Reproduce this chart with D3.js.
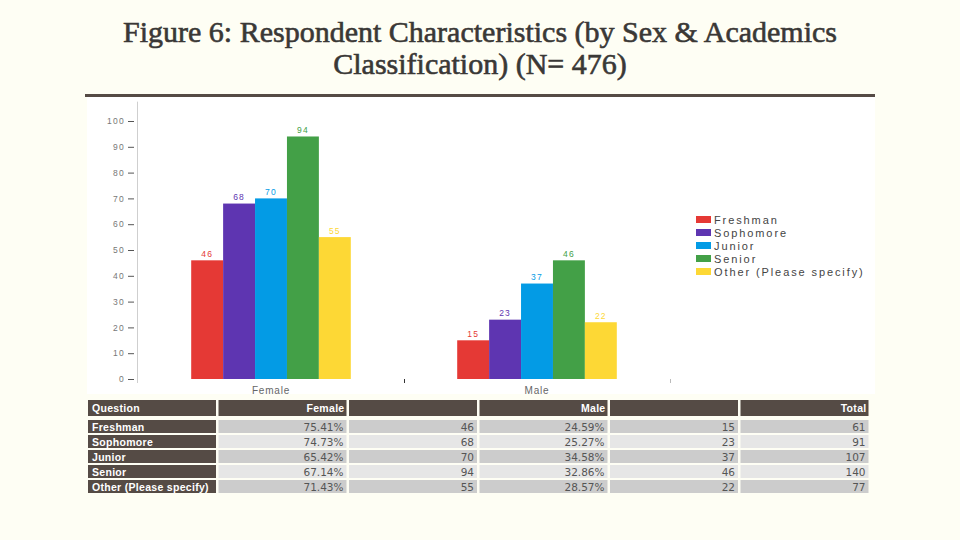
<!DOCTYPE html>
<html><head><meta charset="utf-8">
<script src="https://cdn.jsdelivr.net/npm/d3@7"></script>
<style>
html,body{margin:0;padding:0;background:#fefef4;}
svg{display:block;}
</style></head>
<body>
<svg id="c" width="960" height="540"></svg>
<script>
const titleLines = ["Figure 6: Respondent Characteristics (by Sex & Academics", "Classification) (N= 476)"];
const categories = ["Freshman", "Sophomore", "Junior", "Senior", "Other (Please specify)"];
const groups = ["Female", "Male"];
const femaleCounts = [46, 68, 70, 94, 55];
const maleCounts = [15, 23, 37, 46, 22];
const femalePct = ["75.41%", "74.73%", "65.42%", "67.14%", "71.43%"];
const malePct = ["24.59%", "25.27%", "34.58%", "32.86%", "28.57%"];
const totals = [61, 91, 107, 140, 77];
const yTicks = [0, 10, 20, 30, 40, 50, 60, 70, 80, 90, 100];
const colors = ["#e53935", "#5e35b1", "#039be5", "#43a047", "#fdd835"];
const tableHeaders = ["Question", "Female", "", "Male", "", "Total"];

const svg = d3.select("#c");

// title
svg.append("g").selectAll("text").data(titleLines).join("text")
  .attr("x", 480).attr("y", (d, i) => 42 + i * 32)
  .attr("text-anchor", "middle")
  .attr("font-family", "'Liberation Serif', 'DejaVu Serif', serif")
  .attr("font-size", 30).attr("fill", "#3a3836")
  .attr("stroke", "#3a3836").attr("stroke-width", 0.6)
  .text(d => d);

// top dark rule and white panel
svg.append("rect").attr("x", 85).attr("y", 94).attr("width", 790).attr("height", 3).attr("fill", "#554b45");
svg.append("rect").attr("x", 87).attr("y", 97).attr("width", 788).attr("height", 297).attr("fill", "#ffffff");
svg.append("clipPath").attr("id", "pc").append("rect").attr("x", 87).attr("y", 97).attr("width", 788).attr("height", 297);

const chart = svg.append("g").attr("clip-path", "url(#pc)");

const y = d3.scaleLinear().domain([0, 100]).range([379, 121]);
const x0 = d3.scaleBand().domain(groups).range([138, 670]).paddingInner(0.4).paddingOuter(0.2);
const x1 = d3.scaleBand().domain(categories).range([0, x0.bandwidth()]);

// y axis
chart.append("line").attr("x1", 137.5).attr("x2", 137.5).attr("y1", y(107.5)).attr("y2", 383)
  .attr("stroke", "#cfcfcf").attr("stroke-width", 1);
const yAxis = d3.axisLeft(y).tickValues(yTicks).tickSize(6).tickPadding(3);
const ya = chart.append("g").attr("transform", "translate(134,0)").call(yAxis);
ya.select(".domain").remove();
ya.selectAll(".tick line").attr("stroke", "#555");
ya.selectAll(".tick text").attr("fill", "#777").attr("font-size", 8.5)
  .attr("font-family", "'Liberation Sans', Arial, sans-serif").attr("letter-spacing", "1.3px");

// x ticks at band boundaries
chart.append("g").selectAll("line").data([404, 670]).join("line")
  .attr("x1", d => d + 0.5).attr("x2", d => d + 0.5).attr("y1", 379).attr("y2", 383)
  .attr("stroke", d => d === 670 ? "#bbb" : "#333");

// group labels
chart.append("g").selectAll("text").data(groups).join("text")
  .attr("x", d => x0(d) + x0.bandwidth() / 2).attr("y", 394)
  .attr("text-anchor", "middle").attr("fill", "#666").attr("font-size", 10)
  .attr("font-family", "'Liberation Sans', Arial, sans-serif").attr("letter-spacing", "0.8px")
  .text(d => d);

// bars
const rows = groups.map(g => ({
  g, vals: categories.map((c, i) => ({ c, i, v: g === "Female" ? femaleCounts[i] : maleCounts[i] }))
}));
const gg = chart.selectAll(".grp").data(rows).join("g").attr("class", "grp")
  .attr("transform", d => `translate(${x0(d.g)},0)`);
gg.selectAll("rect").data(d => d.vals).join("rect")
  .attr("x", d => x1(d.c)).attr("width", x1.bandwidth())
  .attr("y", d => y(d.v)).attr("height", d => y(0) - y(d.v))
  .attr("fill", d => colors[d.i]);
gg.selectAll("text").data(d => d.vals).join("text")
  .attr("x", d => x1(d.c) + x1.bandwidth() / 2).attr("y", d => y(d.v) - 3.5)
  .attr("text-anchor", "middle").attr("font-size", 8.5).attr("letter-spacing", "1.2px")
  .attr("font-family", "'Liberation Sans', Arial, sans-serif")
  .attr("fill", d => colors[d.i]).text(d => d.v);

// legend
const lg = svg.append("g").selectAll("g").data(categories).join("g")
  .attr("transform", (d, i) => `translate(696,${216 + i * 13})`);
lg.append("rect").attr("width", 15).attr("height", 7).attr("fill", (d, i) => colors[i]);
lg.append("text").attr("x", 18).attr("y", 7.5).attr("font-size", 11).attr("letter-spacing", "1.9px")
  .attr("font-family", "'Liberation Sans', Arial, sans-serif").attr("fill", "#444").text(d => d);

// table
const colX = d3.range(6).map(i => 88 + i * 130.5);
const colW = 128;
const tbl = svg.append("g");
const hdr = tbl.append("g");
hdr.selectAll("rect").data(tableHeaders).join("rect")
  .attr("x", (d, i) => colX[i]).attr("y", 400).attr("width", colW).attr("height", 16).attr("fill", "#554b45");
hdr.selectAll("text").data(tableHeaders).join("text")
  .attr("x", (d, i) => i === 0 ? colX[i] + 4 : colX[i] + colW - 2).attr("y", 412)
  .attr("text-anchor", (d, i) => i === 0 ? "start" : "end")
  .attr("font-family", "'Liberation Sans', Arial, sans-serif").attr("font-weight", "bold")
  .attr("font-size", 10.5).attr("letter-spacing", "0.3px").attr("fill", "#fff").text(d => d);

const tableRows = categories.map((c, i) => [c, femalePct[i], femaleCounts[i], malePct[i], maleCounts[i], totals[i]]);
const tr = tbl.selectAll(".tr").data(tableRows).join("g").attr("class", "tr")
  .attr("transform", (d, i) => `translate(0,${420 + i * 15})`);
tr.each(function(row, ri) {
  const g = d3.select(this);
  g.selectAll("rect").data(row).join("rect")
    .attr("x", (d, i) => colX[i]).attr("y", 0).attr("width", colW).attr("height", 13)
    .attr("fill", (d, i) => i === 0 ? "#554b45" : (ri % 2 === 0 ? "#cccccc" : "#e6e6e6"));
  g.selectAll("text").data(row).join("text")
    .attr("x", (d, i) => i === 0 ? colX[i] + 4 : colX[i] + colW - 3).attr("y", 11)
    .attr("text-anchor", (d, i) => i === 0 ? "start" : "end")
    .attr("font-family", (d, i) => i === 0 ? "'Liberation Sans', Arial, sans-serif" : "'DejaVu Sans', Verdana, sans-serif")
    .attr("font-weight", (d, i) => i === 0 ? "bold" : "normal")
    .attr("font-size", (d, i) => i === 0 ? 10.5 : 10.5)
    .attr("letter-spacing", (d, i) => i === 0 ? "0.3px" : "0px")
    .attr("fill", (d, i) => i === 0 ? "#fff" : "#555").text(d => d);
});
</script>
</body></html>
